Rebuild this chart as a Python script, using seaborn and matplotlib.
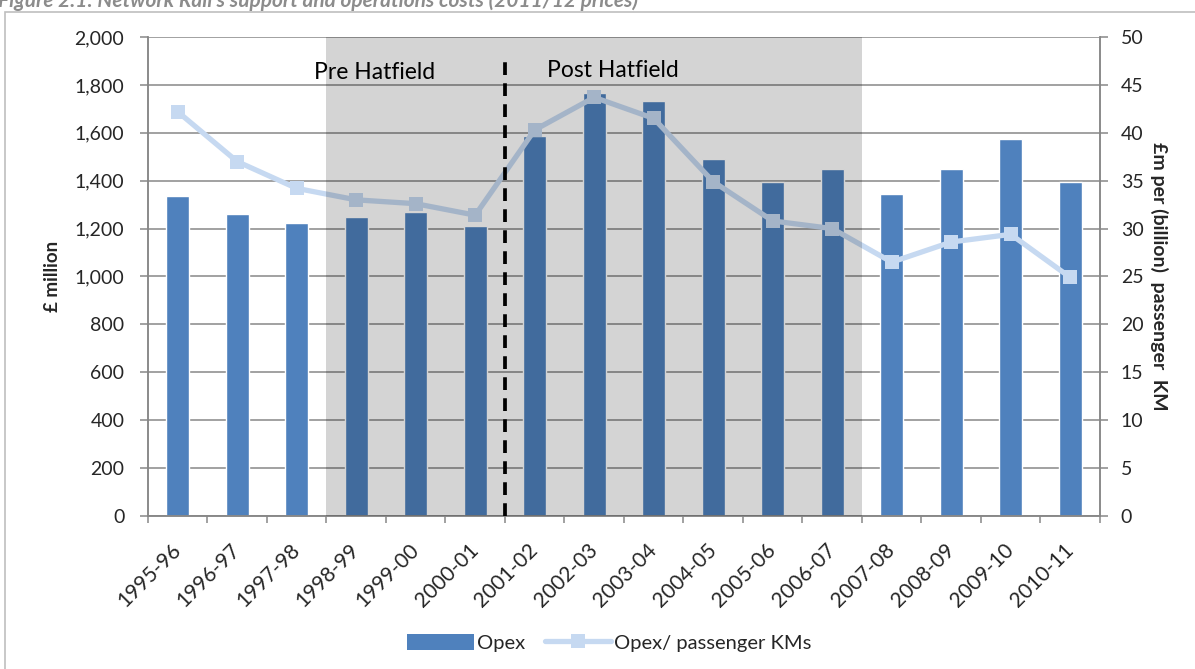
import numpy as np
import pandas as pd
import matplotlib
matplotlib.use("Agg")
import matplotlib.pyplot as plt
from matplotlib.patches import Rectangle, Patch
from matplotlib.lines import Line2D
from matplotlib.ticker import FuncFormatter, MultipleLocator
from matplotlib.transforms import ScaledTranslation
import seaborn as sns

# Financial years
years = ["1995-96", "1996-97", "1997-98", "1998-99", "1999-00", "2000-01",
         "2001-02", "2002-03", "2003-04", "2004-05", "2005-06", "2006-07",
         "2007-08", "2008-09", "2009-10", "2010-11"]
# Support and operations costs, £ million (2011/12 prices)
opex = [1335, 1262, 1225, 1250, 1271, 1212, 1585, 1765, 1734, 1492,
        1396, 1448, 1344, 1448, 1573, 1396]
# £m per (billion) passenger km
opex_per_pkm = [42.2, 37.0, 34.2, 33.0, 32.6, 31.4, 40.3, 43.7, 41.5, 34.9,
                30.8, 30.0, 26.5, 28.6, 29.4, 24.9]

period_labels = ["Pre Hatfield", "Post Hatfield"]

sns.set_theme(style="white")
plt.rcParams["font.family"] = ["Lato", "DejaVu Sans"]

BAR = "#4F81BD"
LINE = "#C6D9F1"
GRID = "#878787"

df = pd.DataFrame({"year": years, "opex": opex, "ratio": opex_per_pkm})
df["pos"] = np.arange(len(df))

fig = plt.figure(figsize=(11.95, 6.69), dpi=100)
ax = fig.add_axes([0.1238, 0.2287, 0.7967, 0.716])

sns.barplot(data=df, x="year", y="opex", color=BAR, width=0.38,
            saturation=1, ax=ax, zorder=2)
ax.set_xlim(-0.5, len(years) - 0.5)
ax.set_ylim(0, 2000)
ax.yaxis.set_major_locator(MultipleLocator(200))
ax.yaxis.set_major_formatter(FuncFormatter(lambda v, p: f"{int(v):,}"))
ax.grid(axis="y", color=GRID, linewidth=1.1)
ax.set_axisbelow(True)
ax.set_xlabel("")
ax.set_ylabel("£ million", fontsize=13.5, fontweight="bold", labelpad=10)

ax2 = ax.twinx()
sns.lineplot(data=df, x="pos", y="ratio", color=LINE, linewidth=3.8,
             marker="s", markersize=10, markeredgewidth=0, ax=ax2, zorder=3)
ax2.set_ylim(0, 50)
ax2.yaxis.set_major_locator(MultipleLocator(5))
ax2.set_xlim(-0.5, len(years) - 0.5)
ax2.set_xlabel("")
ax2.set_ylabel("£m per (billion)  passenger  KM", fontsize=14,
               fontweight="bold", rotation=-90, labelpad=18)

# Shaded period around the Hatfield accident
ax2.add_patch(Rectangle((2.5, 0), 9, 50, facecolor="black", alpha=0.17,
                        edgecolor="none", zorder=5))
ax2.plot([5.5, 5.5], [0, 48], color="black", linestyle=(0, (3.4, 2.2)),
         linewidth=2.7, zorder=6)
ax2.text(3.31, 46.3, period_labels[0], fontsize=16.5, ha="center",
         va="center", color="black", zorder=7)
ax2.text(6.2, 46.5, period_labels[1], fontsize=16.5, ha="left",
         va="center", color="black", zorder=7)

# Axes styling
for a in (ax, ax2):
    for side in ("left", "right", "bottom"):
        a.spines[side].set_color(GRID)
        a.spines[side].set_linewidth(1.1)
    a.spines["top"].set_visible(False)

ax.set_xticks(np.arange(len(years)))
ax.set_xticklabels(years, rotation=45, ha="right", va="center",
                   rotation_mode="anchor", fontsize=15)
shift = ScaledTranslation(6 / 100, 0, fig.dpi_scale_trans)
for lbl in ax.get_xticklabels():
    lbl.set_transform(lbl.get_transform() + shift)
ax.set_xticks(np.arange(len(years) + 1) - 0.5, minor=True)
ax.tick_params(axis="x", which="major", length=0, pad=22)
ax.tick_params(axis="x", which="minor", length=5, color=GRID, width=1.1,
               direction="out", bottom=True)
ax.tick_params(axis="y", length=6, color=GRID, width=1.1, direction="out",
               labelsize=14, left=True, pad=11)
ax2.tick_params(axis="y", length=6, color=GRID, width=1.1, direction="out",
                labelsize=14, right=True, pad=9)
ax2.tick_params(axis="x", length=0, labelbottom=False)

# Legend
handles = [Patch(facecolor=BAR, edgecolor="none"),
           Line2D([], [], color=LINE, linewidth=3.8, marker="s",
                  markersize=10, markeredgewidth=0)]
fig.legend(handles, ["Opex", "Opex/ passenger KMs"], loc="center",
           bbox_to_anchor=(0.51, 0.039), ncol=2, frameon=False,
           fontsize=14.5, handlelength=3.3, handleheight=0.9,
           columnspacing=1.0, handletextpad=0.15)

# Chart frame and caption
fig.patches.append(Rectangle((0.0045, -0.01), 1.2, 0.992,
                             transform=fig.transFigure, fill=False,
                             edgecolor="#BFBFBF", linewidth=1.2))
fig.text(-0.002, 0.9895,
         "Figure 2.1: Network Rail's support and operations costs (2011/12 prices)",
         fontsize=15, fontweight="bold", fontstyle="italic", color="#8C8C8C",
         ha="left", va="baseline")

fig.savefig("out.png", dpi=100)
